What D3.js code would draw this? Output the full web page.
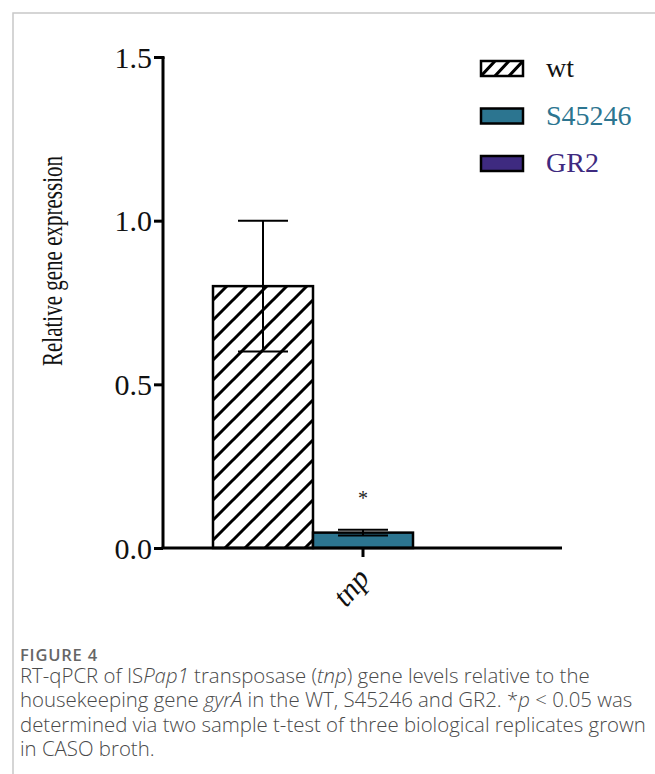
<!DOCTYPE html>
<html>
<head>
<meta charset="utf-8">
<script src="https://cdn.jsdelivr.net/npm/d3@7"></script>
<style>
  html, body { margin: 0; padding: 0; background: #fff; }
  svg { display: block; }
</style>
</head>
<body>
<div id="chart"></div>
<script>
// data
const categories = ['tnp'];
const series = ['wt', 'S45246', 'GR2'];
const means = [0.80, 0.047, 0];
const errors = [0.20, 0.009, 0];
const yTicks = [0.0, 0.5, 1.0, 1.5];
const seriesColors = ['url(#hatch)', '#2c7590', '#3e2a80'];
const labelColors = ['#111', '#2c7590', '#3e2a80'];

const width = 655, height = 774;

const svg = d3.select('#chart')
  .append('svg')
  .attr('width', width)
  .attr('height', height);

const defs = svg.append('defs');
defs.append('pattern')
  .attr('id', 'hatch')
  .attr('patternUnits', 'userSpaceOnUse')
  .attr('width', 20)
  .attr('height', 20)
  .append('path')
  .attr('d', 'M-5,5 l10,-10 M0,20 l20,-20 M15,25 l10,-10')
  .attr('stroke', '#000')
  .attr('stroke-width', 3);

defs.append('pattern')
  .attr('id', 'hatchSmall')
  .attr('patternUnits', 'userSpaceOnUse')
  .attr('x', 481).attr('y', 61)
  .attr('width', 14)
  .attr('height', 15)
  .append('path')
  .attr('d', 'M0,15 l14,-15 M-7,7.5 l7,-7.5 M7,22.5 l14,-15')
  .attr('stroke', '#000')
  .attr('stroke-width', 3);

// card frame
svg.append('path')
  .attr('d', `M13,${height} V13 H${width}`)
  .attr('fill', 'none')
  .attr('stroke', '#c8c8c8')
  .attr('stroke-width', 1.5);

const y = d3.scaleLinear().domain([0, 1.5]).range([548, 57]);
const x0 = d3.scaleBand().domain(categories).range([213, 513]);
const x1 = d3.scaleBand().domain(series).range([0, x0.bandwidth()]);

const serif = "'Liberation Serif', 'Times New Roman', serif";

// y axis
const yAxis = svg.append('g')
  .attr('transform', 'translate(163,0)')
  .call(d3.axisLeft(y).tickValues(yTicks).tickFormat(d3.format('.1f')).tickSize(9).tickPadding(2));
yAxis.select('.domain').attr('d', `M0,${y(1.5)} V${y(0)}`).attr('stroke-width', 3);
yAxis.selectAll('.tick line').attr('stroke-width', 3);
yAxis.selectAll('.tick text')
  .attr('font-family', serif)
  .attr('font-size', 30)
  .attr('dy', '0.34em')
  .attr('fill', '#111');
// top tick turns right into the axis like a hook
yAxis.select('.tick:last-of-type line').attr('x2', -9).attr('x1', 1.5);

svg.append('text')
  .attr('transform', `translate(62,${261}) rotate(-90)`)
  .attr('text-anchor', 'middle')
  .attr('font-family', serif)
  .attr('font-size', 30)
  .attr('textLength', 210)
  .attr('lengthAdjust', 'spacingAndGlyphs')
  .attr('fill', '#111')
  .text('Relative gene expression');

// bars
const groups = svg.selectAll('.grp')
  .data(categories)
  .join('g')
  .attr('class', 'grp')
  .attr('transform', d => `translate(${x0(d)},0)`);

const barData = series.map((s, i) => ({ s, i, v: means[i], e: errors[i] }));

groups.selectAll('rect')
  .data(barData.filter(d => d.v > 0))
  .join('rect')
  .attr('x', d => x1(d.s))
  .attr('y', d => y(d.v))
  .attr('width', x1.bandwidth())
  .attr('height', d => y(0) - y(d.v))
  .attr('fill', d => seriesColors[d.i])
  .attr('stroke', '#000')
  .attr('stroke-width', 2.5);

// error bars
groups.selectAll('.err')
  .data(barData.filter(d => d.e > 0))
  .join('path')
  .attr('class', 'err')
  .attr('fill', 'none')
  .attr('stroke', '#000')
  .attr('stroke-width', 2)
  .attr('d', d => {
    const cx = x1(d.s) + x1.bandwidth() / 2;
    const hw = 25;
    return `M${cx},${y(d.v + d.e)} V${y(d.v - d.e)}` +
      ` M${cx - hw},${y(d.v + d.e)} H${cx + hw}` +
      ` M${cx - hw},${y(d.v - d.e)} H${cx + hw}`;
  });

// significance star
groups.append('text')
  .attr('x', x1('S45246') + x1.bandwidth() / 2)
  .attr('y', y(0.13))
  .attr('text-anchor', 'middle')
  .attr('font-family', serif)
  .attr('font-size', 20)
  .attr('fill', '#222')
  .text('*');

// x axis
svg.append('line')
  .attr('x1', 161.5).attr('x2', 562)
  .attr('y1', y(0)).attr('y2', y(0))
  .attr('stroke', '#000')
  .attr('stroke-width', 3);

categories.forEach(c => {
  const cx = x0(c) + x0.bandwidth() / 2;
  svg.append('line')
    .attr('x1', cx).attr('x2', cx)
    .attr('y1', y(0)).attr('y2', y(0) + 9)
    .attr('stroke', '#000')
    .attr('stroke-width', 3);
  svg.append('text')
    .attr('transform', `translate(${cx + 8},${y(0) + 31}) rotate(-50)`)
    .attr('text-anchor', 'end')
    .attr('font-family', serif)
    .attr('font-style', 'italic')
    .attr('font-size', 30)
    .attr('fill', '#111')
    .text(c);
});

// legend
const legend = svg.append('g');
series.forEach((s, i) => {
  const ly = 61 + i * 47.5;
  legend.append('rect')
    .attr('x', 481).attr('y', ly)
    .attr('width', 42).attr('height', 15)
    .attr('fill', i === 0 ? 'url(#hatchSmall)' : seriesColors[i])
    .attr('stroke', '#000')
    .attr('stroke-width', 2.5);
  legend.append('text')
    .attr('x', 546).attr('y', ly + 16)
    .attr('font-family', serif)
    .attr('font-size', 28)
    .attr('fill', labelColors[i])
    .text(s);
});

// caption
const cap = svg.append('g').attr('font-family', "'Open Sans', sans-serif");
cap.append('text')
  .attr('x', 20).attr('y', 661)
  .attr('font-size', 16.5)
  .attr('font-weight', 600)
  .attr('letter-spacing', 0.8)
  .attr('fill', '#666')
  .text('FIGURE 4');

const capLines = [
  [['RT-qPCR of IS', 0], ['Pap1', 1], [' transposase (', 0], ['tnp', 1], [') gene levels relative to the', 0]],
  [['housekeeping gene ', 0], ['gyrA', 1], [' in the WT, S45246 and GR2. *', 0], ['p', 1], [' < 0.05 was', 0]],
  [['determined via two sample t-test of three biological replicates grown', 0]],
  [['in CASO broth.', 0]]
];
capLines.forEach((parts, i) => {
  const t = cap.append('text')
    .attr('x', 20).attr('y', 683 + i * 24.3)
    .attr('font-size', 20.4)
    .attr('font-weight', 300)
    .attr('fill', '#4a4a4a');
  parts.forEach(([txt, it]) => {
    t.append('tspan').attr('font-style', it ? 'italic' : 'normal').text(txt);
  });
});
</script>
</body>
</html>
